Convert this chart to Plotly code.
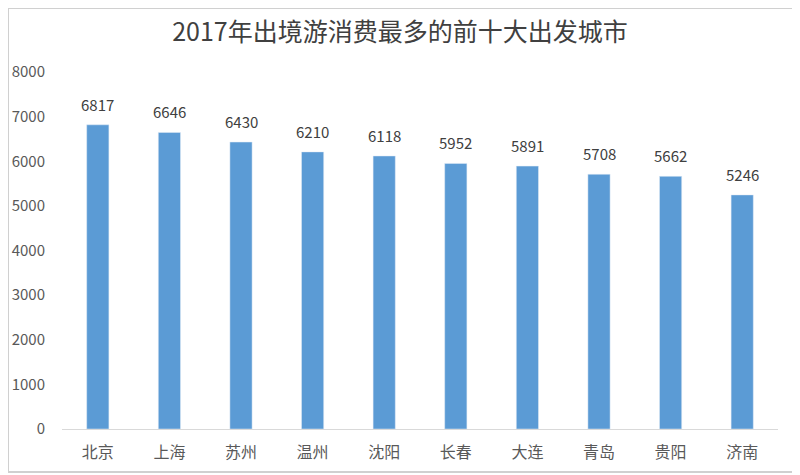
import plotly.graph_objs as go

# data
cities = ["北京", "上海", "苏州", "温州", "沈阳", "长春", "大连", "青岛", "贵阳", "济南"]
spend = [6817, 6646, 6430, 6210, 6118, 5952, 5891, 5708, 5662, 5246]
yticks = [0, 1000, 2000, 3000, 4000, 5000, 6000, 7000, 8000]

font = "Noto Sans CJK SC, Noto Sans, sans-serif"

# page puts the plot 8px in from the corner, so figure is 8px smaller
W, H = 792, 467
L, R, T, B = 54, 22, 64, 46
pw, ph = W - L - R, H - T - B

bars = go.Bar(x=cities, y=spend, marker=dict(color="#5B9BD5"))

# value labels above the bars
labels = [dict(x=c, y=v, text=str(v), showarrow=False, yanchor="bottom", yshift=8,
               font=dict(size=15, color="#404040", family=font))
          for c, v in zip(cities, spend)]

layout = go.Layout(
    title=dict(text="2017年出境游消费最多的前十大出发城市", x=392 / W, xanchor="center",
               xref="container", y=1 - 24 / H, yanchor="middle",
               font=dict(size=25, color="#404040", family=font)),
    width=W, height=H,
    margin=dict(l=L, r=R, t=T, b=B),
    paper_bgcolor="white", plot_bgcolor="white",
    bargap=0.69, showlegend=False,
    xaxis=dict(showline=True, linecolor="#D9D9D9", linewidth=1,
               ticks="outside", ticklen=9, tickcolor="rgba(0,0,0,0)",
               tickfont=dict(size=16, color="#595959", family=font)),
    yaxis=dict(range=[0, 8000], tickvals=yticks, showgrid=False, zeroline=False,
               showline=False, ticks="outside", tickcolor="rgba(0,0,0,0)", ticklen=13,
               automargin=False,
               tickfont=dict(size=15, color="#595959", family=font)),
    annotations=labels,
    shapes=[dict(type="rect", xref="paper", yref="paper",
                 x0=-L / pw, x1=1 + (R - 3) / pw, y0=-(B - 3) / ph, y1=1 + T / ph,
                 line=dict(color="#D0D0D0", width=2))],
)

fig = go.Figure(data=[bars], layout=layout)
fig.write_html("out.html")
